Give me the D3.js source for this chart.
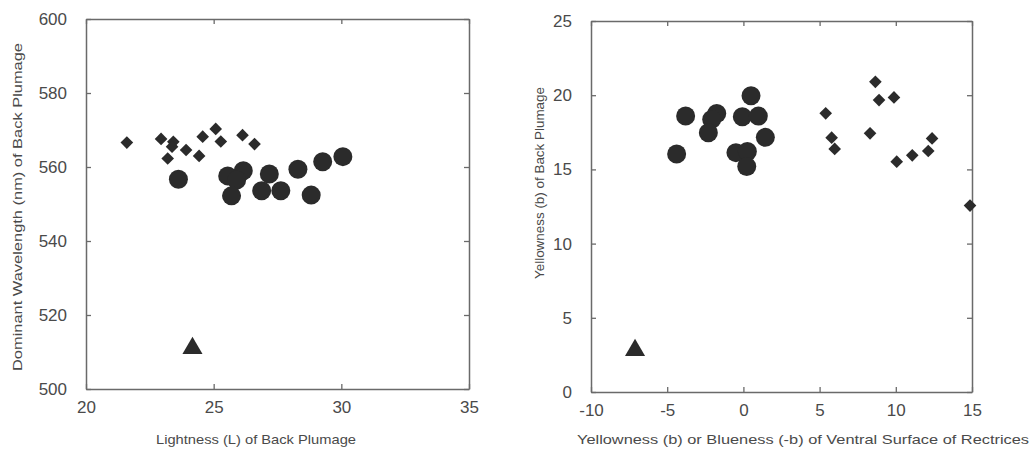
<!DOCTYPE html>
<html>
<head>
<meta charset="utf-8">
<script src="https://cdn.jsdelivr.net/npm/d3@7"></script>
<style>
	body { margin: 0; background: #fff; }
	svg text { font-family: "Liberation Sans", Arial, sans-serif; fill: #4a4a4a; }
</style>
</head>
<body>
<svg id="chart" width="1032" height="453"></svg>
<script>
	// left panel: lightness vs dominant wavelength
	var leftDiamonds = [
		[21.6, 566.6], [22.94, 567.6], [23.42, 566.8], [23.37, 565.5], [23.2, 562.3], [23.92, 564.6],
		[24.57, 568.2], [24.43, 563.0], [25.08, 570.3], [25.28, 566.9], [26.13, 568.6], [26.6, 566.2]
	];
	var leftCircles = [
		[23.62, 556.7], [25.55, 557.6], [26.16, 559.0], [25.9, 556.5], [25.7, 552.2], [27.18, 558.1],
		[26.88, 553.6], [27.63, 553.6], [28.3, 559.4], [28.82, 552.4], [29.27, 561.4], [30.06, 562.8]
	];
	var leftTriangles = [[24.17, 511.0]];
	var leftXTicks = [20, 25, 30, 35];
	var leftYTicks = [500, 520, 540, 560, 580, 600];

	// right panel: ventral yellowness vs back yellowness
	var rightCircles = [
		[-4.38, 16.04], [-3.79, 18.6], [-1.75, 18.77], [-2.08, 18.37], [-2.3, 17.47], [0.5, 19.96],
		[-0.07, 18.55], [0.98, 18.59], [1.44, 17.16], [-0.49, 16.13], [0.26, 16.2], [0.22, 15.19]
	];
	var rightDiamonds = [
		[5.4, 18.78], [5.79, 17.14], [5.99, 16.38], [8.66, 20.9], [8.9, 19.67], [9.88, 19.85],
		[8.31, 17.43], [10.06, 15.52], [11.08, 15.95], [12.13, 16.24], [12.38, 17.09], [14.87, 12.56]
	];
	var rightTriangles = [[-7.11, 2.81]];
	var rightXTicks = [-10, -5, 0, 5, 10, 15];
	var rightYTicks = [0, 5, 10, 15, 20, 25];

	var svg = d3.select('#chart');
	var ink = '#2b2b2b', axisColor = '#6a6a6a';

	var circleSym = d3.symbol().type(d3.symbolCircle).size(Math.PI * 9.5 * 9.5);
	var diamondSym = d3.symbol().type(d3.symbolSquare).size(80);
	var triangleSym = d3.symbol().type(d3.symbolTriangle).size(175);

	function drawPanel(cfg) {
		var x = d3.scaleLinear().domain(cfg.xDomain).range([cfg.left, cfg.right]);
		var y = d3.scaleLinear().domain(cfg.yDomain).range([cfg.bottom, cfg.top]);
		var g = svg.append('g');

		// frame with inward ticks on every side
		g.append('g').attr('transform', 'translate(0,' + cfg.bottom + ')')
			.call(d3.axisBottom(x).tickValues(cfg.xTicks).tickSizeInner(-5).tickSizeOuter(0).tickPadding(12)
				.tickFormat(function (d) { return d < 0 ? '-' + Math.abs(d) : d; }));
		g.append('g').attr('transform', 'translate(0,' + cfg.top + ')')
			.call(d3.axisTop(x).tickValues(cfg.xTicks).tickSizeInner(-5).tickSizeOuter(0).tickFormat(''));
		g.append('g').attr('transform', 'translate(' + cfg.left + ',0)')
			.call(d3.axisLeft(y).tickValues(cfg.yTicks).tickSizeInner(-5).tickSizeOuter(0).tickPadding(19));
		g.append('g').attr('transform', 'translate(' + cfg.right + ',0)')
			.call(d3.axisRight(y).tickValues(cfg.yTicks).tickSizeInner(-5).tickSizeOuter(0).tickFormat(''));

		g.selectAll('.domain').attr('stroke', axisColor).attr('stroke-width', 1.5);
		g.selectAll('.tick line').attr('stroke', axisColor).attr('stroke-width', 1.3);
		g.selectAll('.tick text').attr('font-size', 17).attr('fill', '#4a4a4a')
			.attr('font-family', '"Liberation Sans", Arial, sans-serif');

		g.selectAll('path.circ').data(cfg.circles).enter().append('path')
			.attr('d', circleSym).attr('fill', ink)
			.attr('transform', function (d) { return 'translate(' + x(d[0]) + ',' + y(d[1]) + ')'; });
		g.selectAll('path.diam').data(cfg.diamonds).enter().append('path')
			.attr('d', diamondSym).attr('fill', ink)
			.attr('transform', function (d) { return 'translate(' + x(d[0]) + ',' + y(d[1]) + ') rotate(45)'; });
		g.selectAll('path.tri').data(cfg.triangles).enter().append('path')
			.attr('d', triangleSym).attr('fill', ink)
			.attr('transform', function (d) { return 'translate(' + x(d[0]) + ',' + y(d[1]) + ')'; });

		g.append('text')
			.attr('x', cfg.xTitle[0]).attr('y', cfg.xTitle[1])
			.attr('text-anchor', 'middle').attr('font-size', 13)
			.attr('textLength', cfg.xTitle[2]).attr('lengthAdjust', 'spacingAndGlyphs')
			.text(cfg.xLabel);
		g.append('text')
			.attr('transform', 'translate(' + cfg.yTitle[0] + ',' + cfg.yTitle[1] + ') rotate(-90)')
			.attr('text-anchor', 'middle').attr('font-size', 13)
			.attr('textLength', cfg.yTitle[2]).attr('lengthAdjust', 'spacingAndGlyphs')
			.text(cfg.yLabel);
	}

	drawPanel({
		left: 86, right: 469, top: 19, bottom: 389,
		xDomain: [20, 35], yDomain: [500, 600],
		xTicks: leftXTicks, yTicks: leftYTicks,
		circles: leftCircles, diamonds: leftDiamonds, triangles: leftTriangles,
		xLabel: 'Lightness (L) of Back Plumage', xTitle: [256, 444, 200],
		yLabel: 'Dominant Wavelength (nm) of Back Plumage', yTitle: [22, 207, 328]
	});

	drawPanel({
		left: 591, right: 972, top: 21, bottom: 392,
		xDomain: [-10, 15], yDomain: [0, 25],
		xTicks: rightXTicks, yTicks: rightYTicks,
		circles: rightCircles, diamonds: rightDiamonds, triangles: rightTriangles,
		xLabel: 'Yellowness (b) or Blueness (-b) of Ventral Surface of Rectrices', xTitle: [803, 444, 452],
		yLabel: 'Yellowness (b) of Back Plumage', yTitle: [544, 183, 192]
	});
</script>
</body>
</html>
